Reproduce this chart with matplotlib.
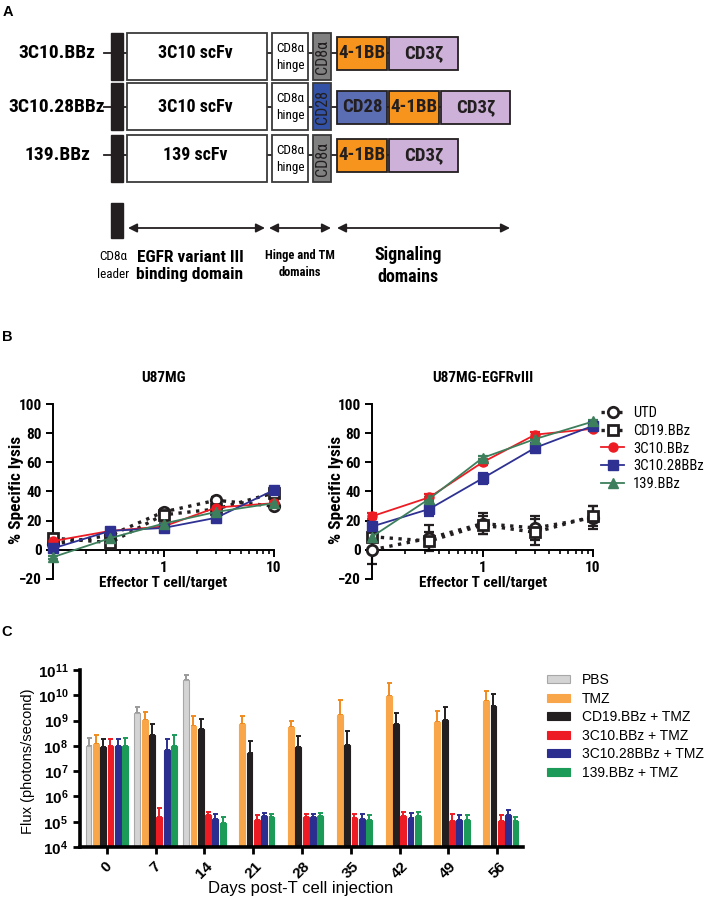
import numpy as np
import matplotlib
matplotlib.use('Agg')
import matplotlib.pyplot as plt
from matplotlib import font_manager as fm
from matplotlib.patches import Rectangle
from matplotlib.lines import Line2D
from matplotlib.ticker import FixedLocator, NullFormatter, NullLocator

# pick a condensed sans that has a real bold face
_bold = {f.name for f in fm.fontManager.ttflist if f.weight in (700, 'bold')}
_cands = ['Liberation Sans Narrow', 'Arial Narrow', 'Nimbus Sans Narrow', 'Roboto Condensed',
          'Archivo Narrow', 'PT Sans Narrow', 'IBM Plex Sans Condensed', 'Fira Sans Condensed',
          'Open Sans Condensed', 'Barlow Semi Condensed', 'Encode Sans Condensed', 'Saira SemiCondensed']
_narrow = [c for c in _cands if c in _bold]
NARROW = _narrow[:1] + ['Liberation Sans', 'DejaVu Sans']
NSCALE = 1.0 if _narrow else 0.82
ARIAL = ['Liberation Sans', 'DejaVu Sans']
plt.rcParams['font.family'] = ARIAL
plt.rcParams['mathtext.fontset'] = 'custom'
plt.rcParams['mathtext.rm'] = 'Liberation Sans'
plt.rcParams['mathtext.bf'] = 'Liberation Sans:bold'

# ---------------- panel A : CAR constructs
constructs = ['3C10.BBz', '3C10.28BBz', '139.BBz']
scfv_names = ['3C10 scFv', '3C10 scFv', '139 scFv']
tm_names = ['CD8α', 'CD28', 'CD8α']
signaling = [['4-1BB', 'CD3ζ'], ['CD28', '4-1BB', 'CD3ζ'], ['4-1BB', 'CD3ζ']]
domain_names = ['EGFR variant III\nbinding domain', 'Hinge and TM\ndomains', 'Signaling\ndomains']

# ---------------- panel B : cytotoxicity (E:T ratio vs % specific lysis)
et_ratio = [0.1, 0.33, 1, 3, 10]
lysis_names = ['UTD', 'CD19.BBz', '3C10.BBz', '3C10.28BBz', '139.BBz']
u87_mean = [[4, 10, 26, 34, 30],
            [8, 5, 24, 28, 39],
            [6, 13, 16, 29, 32],
            [1, 13, 15, 22, 41],
            [-5, 8, 18, 26, 32]]
u87_err = [[2, 2, 2, 2, 2],
           [2, 2, 2, 2, 2],
           [2, 1, 1, 2, 2],
           [2, 2, 1, 2, 2],
           [1, 1, 1, 1, 1]]
vIII_mean = [[0, 8, 18, 15, 22],
             [9, 6, 17, 12, 23],
             [23, 36, 60, 79, 83],
             [16, 28, 49, 70, 85],
             [9, 35, 63, 76, 88]]
vIII_err = [[10, 9, 7, 8, 8],
            [2, 6, 6, 9, 7],
            [2, 2, 2, 2, 1],
            [3, 5, 4, 3, 2],
            [1, 1, 1, 1, 1]]

# ---------------- panel C : tumour flux over time
days = [0, 7, 14, 21, 28, 35, 42, 49, 56]
flux_groups = ['PBS', 'TMZ', 'CD19.BBz + TMZ', '3C10.BBz + TMZ', '3C10.28BBz + TMZ', '139.BBz + TMZ']
nan = np.nan
flux_pbs = [1.0e8, 2.0e9, 4.0e10, nan, nan, nan, nan, nan, nan]
flux_pbs_top = [2.0e8, 3.5e9, 6.5e10, nan, nan, nan, nan, nan, nan]
flux_tmz = [1.2e8, 1.05e9, 6.0e8, 7.0e8, 5.5e8, 1.7e9, 9.5e9, 8.5e8, 5.9e9]
flux_tmz_top = [2.7e8, 2.1e9, 1.5e9, 1.5e9, 1.0e9, 6.3e9, 3.0e10, 2.4e9, 1.5e10]
flux_cd19 = [9.0e7, 2.7e8, 4.5e8, 5.0e7, 9.0e7, 1.1e8, 7.4e8, 1.1e9, 3.7e9]
flux_cd19_top = [1.8e8, 7.5e8, 1.15e9, 1.6e8, 2.4e8, 4.0e8, 2.0e9, 3.4e9, 1.1e10]
flux_3c10 = [1.0e8, 1.5e5, 1.8e5, 1.2e5, 1.5e5, 1.4e5, 1.7e5, 1.1e5, 1.1e5]
flux_3c10_top = [1.8e8, 3.6e5, 2.4e5, 1.8e5, 2.0e5, 2.1e5, 2.5e5, 2.0e5, 1.9e5]
flux_28bbz = [1.0e8, 7.0e7, 1.3e5, 1.7e5, 1.5e5, 1.3e5, 1.4e5, 1.2e5, 1.9e5]
flux_28bbz_top = [1.8e8, 1.8e8, 2.0e5, 2.3e5, 2.1e5, 2.0e5, 2.2e5, 1.9e5, 2.9e5]
flux_139 = [1.0e8, 1.0e8, 9.0e4, 1.5e5, 1.7e5, 1.2e5, 1.7e5, 1.2e5, 1.05e5]
flux_139_top = [2.0e8, 2.6e8, 1.5e5, 2.0e5, 2.2e5, 1.8e5, 2.5e5, 1.9e5, 1.6e5]

W, H = 710, 900
fig = plt.figure(figsize=(W / 100, H / 100), dpi=100)


def ftext(x, y, s, **kw):
    kw.setdefault('ha', 'center')
    kw.setdefault('va', 'center')
    return fig.text(x / W, 1 - y / H, s, **kw)


def frect(left, top, right, bottom):
    return [left / W, 1 - bottom / H, (right - left) / W, (bottom - top) / H]


def nfont(size, bold=True):
    return dict(family=NARROW, fontsize=size * NSCALE, fontweight='bold' if bold else 'normal')


# ======================= panel A
axA = fig.add_axes([0, 0, 1, 1])
axA.set_xlim(0, W)
axA.set_ylim(H, 0)
axA.axis('off')

DARK = '#231f20'
sig_color = {'4-1BB': '#f7941d', 'CD3ζ': '#cdb1d9', 'CD28': '#5b6db3'}
sig_width = {'4-1BB': 50, 'CD3ζ': 69, 'CD28': 50}
tm_color = {'CD8α': '#808080', 'CD28': '#3352a6'}
row_top = [33, 83, 135]
row_line = [53, 107, 155]
row_h = 47

for i, name in enumerate(constructs):
    top, cy = row_top[i], row_line[i]
    ends = 337 + sum(sig_width[s] + 2 for s in signaling[i]) - 20
    axA.plot([104, ends], [cy, cy], color=DARK, lw=1.3, zorder=1)
    axA.text(57, cy, name, ha='center', va='center', **nfont(14))
    axA.add_patch(Rectangle((111, top), 12, row_h, fc=DARK, ec=DARK, lw=1, zorder=2))
    axA.add_patch(Rectangle((127, top), 140, row_h, fc='white', ec='#3a3a3a', lw=1.3, zorder=2))
    axA.text(195, cy, scfv_names[i], ha='center', va='center', **nfont(13))
    axA.add_patch(Rectangle((272, top), 36, row_h, fc='white', ec='#3a3a3a', lw=1.3, zorder=2))
    axA.text(290, top + 16, 'CD8α', ha='center', va='center', **nfont(9.5, bold=False))
    axA.text(290, top + 33, 'hinge', ha='center', va='center', **nfont(9.5, bold=False))
    axA.add_patch(Rectangle((313, top), 18, row_h, fc=tm_color[tm_names[i]], ec='#3a3a3a', lw=1.3, zorder=2))
    axA.text(322.5, top + row_h / 2, tm_names[i], rotation=90, ha='center', va='center',
             color=DARK, **nfont(11.5, bold=False))
    x = 337
    for s in signaling[i]:
        w = sig_width[s]
        axA.add_patch(Rectangle((x, cy - 16.5), w, 33, fc=sig_color[s], ec=DARK, lw=1.3, zorder=2))
        axA.text(x + w / 2, cy, s, ha='center', va='center', color=DARK, zorder=3, **nfont(13.5))
        x += w + 2

# domain key
axA.add_patch(Rectangle((111, 203), 12, 35, fc=DARK, ec=DARK, zorder=2))
for (x0, x1) in [(128, 265), (269, 331), (337, 510)]:
    axA.annotate('', xy=(x1, 228), xytext=(x0, 228),
                 arrowprops=dict(arrowstyle='<|-|>', color=DARK, lw=1.3, mutation_scale=13,
                                 shrinkA=0, shrinkB=0))
axA.text(113, 266, 'CD8α\nleader', ha='center', va='center', linespacing=1.5, **nfont(9.5, bold=False))
axA.text(190, 266, domain_names[0], ha='center', va='center', linespacing=1.25, **nfont(12.5))
axA.text(300, 264, domain_names[1], ha='center', va='center', linespacing=1.4, **nfont(9))
axA.text(408, 266, domain_names[2], ha='center', va='center', linespacing=1.25, **nfont(13))

for letter, (lx, ly) in zip('ABC', [(8, 12), (7, 337), (7, 632)]):
    ftext(lx, ly, letter, fontsize=10.5, fontweight='bold')

# ======================= panel B
lysis_style = {
    'UTD': dict(color=DARK, ls=':', lw=2.4, marker='o', mfc='white', mec=DARK, ms=7.5, mew=2),
    'CD19.BBz': dict(color=DARK, ls=':', lw=2.4, marker='s', mfc='white', mec=DARK, ms=7.5, mew=2),
    '3C10.BBz': dict(color='#ed1c24', ls='-', lw=1.3, marker='o', mfc='#ed1c24', mec='#ed1c24', ms=6.5),
    '3C10.28BBz': dict(color='#2e3192', ls='-', lw=1.3, marker='s', mfc='#2e3192', mec='#2e3192', ms=6.5),
    '139.BBz': dict(color='#3d7f5c', ls='-', lw=1.3, marker='^', mfc='#3d7f5c', mec='#3d7f5c', ms=6.5),
}


def lysis_panel(rect, means, errs):
    ax = fig.add_axes(rect)
    for name, m, e in zip(lysis_names, means, errs):
        st = lysis_style[name]
        ax.errorbar(et_ratio, m, yerr=e, fmt='none', ecolor=st['color'], elinewidth=1.6,
                    capsize=3.5, capthick=1.6, clip_on=False, zorder=2)
        ax.plot(et_ratio, m, clip_on=False, zorder=3, **st)
    ax.set_xscale('log')
    ax.set_xlim(0.1, 10)
    ax.set_ylim(-20, 100)
    ax.spines['top'].set_visible(False)
    ax.spines['right'].set_visible(False)
    ax.spines['bottom'].set_position(('data', 0))
    for sp in ['left', 'bottom']:
        ax.spines[sp].set_linewidth(1.4)
    ax.xaxis.set_major_locator(FixedLocator([1, 10]))
    ax.xaxis.set_minor_locator(FixedLocator([0.2, 0.3, 0.4, 0.5, 0.6, 0.7, 0.8, 0.9, 2, 3, 4, 5, 6, 7, 8, 9]))
    ax.xaxis.set_minor_formatter(NullFormatter())
    ax.set_xticklabels(['1', '10'])
    ax.set_yticks([-20, 0, 20, 40, 60, 80, 100])
    ax.set_yticklabels(['−20', '0', '20', '40', '60', '80', '100'])
    ax.tick_params(which='major', length=5, width=1.4, pad=3)
    ax.tick_params(which='minor', length=3, width=1.2)
    for lab in ax.get_xticklabels() + ax.get_yticklabels():
        lab.set(**nfont(11))
    return ax


axB1 = lysis_panel(frect(53, 404, 274, 579), u87_mean, u87_err)
axB2 = lysis_panel(frect(372, 404, 593, 579), vIII_mean, vIII_err)
for cx, title in [(163, 'U87MG'), (483, 'U87MG-EGFRvIII')]:
    ftext(cx, 378, title, **nfont(11))
    ftext(cx, 583, 'Effector T cell/target', **nfont(11))
for lx in [17, 337]:
    ftext(lx, 490, '% Specific lysis', rotation=90, **nfont(12.5))

handles = [Line2D([], [], **lysis_style[n]) for n in lysis_names]
_lf = nfont(10.5, bold=False)
axB2.legend(handles, lysis_names, loc='upper left', bbox_to_anchor=(601 / W, 1 - 406 / H),
            bbox_transform=fig.transFigure, frameon=False, borderpad=0, borderaxespad=0,
            handlelength=1.6, handletextpad=0.6, labelspacing=0.26,
            prop={'family': _lf['family'], 'size': _lf['fontsize']})

# ======================= panel C
axC = fig.add_axes(frect(80, 670, 523, 847))
flux_means = [flux_pbs, flux_tmz, flux_cd19, flux_3c10, flux_28bbz, flux_139]
flux_tops = [flux_pbs_top, flux_tmz_top, flux_cd19_top, flux_3c10_top, flux_28bbz_top, flux_139_top]
bar_fc = ['#d4d4d4', '#f9a64a', '#231f20', '#ed1c24', '#2b2e8e', '#1b9a58']
bar_ec = ['#a8a8a8', '#f9a64a', '#231f20', '#ed1c24', '#2b2e8e', '#1b9a58']
err_c = ['#9a9a9a', '#f08a1e', '#231f20', '#ed1c24', '#2b2e8e', '#1b9a58']
base = 1e4
idx = np.arange(len(days))
for j, (g, m, t) in enumerate(zip(flux_groups, flux_means, flux_tops)):
    m = np.array(m)
    t = np.array(t)
    xs = idx + (j - 2.5) * 0.15
    axC.bar(xs, m - base, bottom=base, width=0.12, color=bar_fc[j], edgecolor=bar_ec[j], lw=0.8,
            label=g, zorder=2)
    axC.errorbar(xs, m, yerr=[np.zeros_like(m), t - m], fmt='none', ecolor=err_c[j],
                 elinewidth=1.4, capsize=1.8, capthick=1.4, zorder=1)
axC.set_yscale('log')
axC.set_ylim(1e4, 1e11)
axC.set_xlim(-0.55, 8.53)
axC.yaxis.set_major_locator(FixedLocator([10.0 ** k for k in range(4, 12)]))
axC.yaxis.set_minor_locator(NullLocator())
axC.set_yticklabels([r'$\mathbf{10^{%d}}$' % k for k in range(4, 12)])
axC.set_xticks(idx)
axC.set_xticklabels([str(d) for d in days], rotation=45, fontweight='bold')
axC.spines['top'].set_visible(False)
axC.spines['right'].set_visible(False)
for sp in ['left', 'bottom']:
    axC.spines[sp].set_linewidth(2.6)
axC.tick_params(axis='both', length=5, width=2, labelsize=11)
ftext(301, 888, 'Days post-T cell injection', fontsize=12)
ftext(28, 761, 'Flux (photons/second)', rotation=90, fontsize=10.5)

axC.legend(loc='upper left', bbox_to_anchor=(547 / W, 1 - 673 / H), bbox_transform=fig.transFigure,
           frameon=False, borderpad=0, borderaxespad=0, handlelength=1.65, handleheight=0.5,
           handletextpad=0.86, labelspacing=0.33, fontsize=10)

fig.savefig('out.png', dpi=100)
